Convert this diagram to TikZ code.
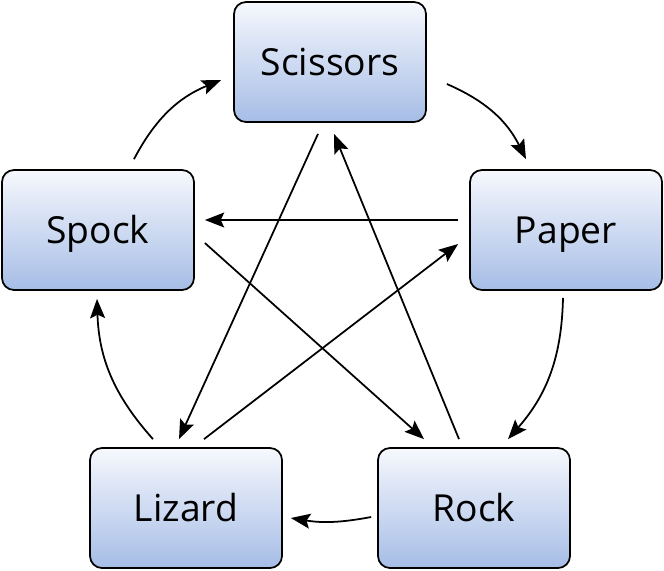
\documentclass[tikz,border=0pt]{standalone}
\usepackage{fontspec}
\setmainfont{Open Sans}
\usetikzlibrary{arrows.meta,positioning}
\definecolor{boxtop}{HTML}{F6F8FD}
\definecolor{boxbot}{HTML}{A6BDE6}
\begin{document}
\begin{tikzpicture}[line width=1pt, main/.style = {draw, rounded corners=0.24cm, top color=boxtop, bottom color=boxbot, minimum width=3.84cm, minimum height=2.4cm, inner sep=0pt, text height=15.2pt, text depth=0pt, font=\fontsize{21.2}{25}\selectfont},
        arr/.style={-{Stealth[length=11pt,width=8.5pt,inset=2pt]}}]
        \useasboundingbox (0,0) rectangle (13.28,-11.4);
        \node[main] (sc) at (6.6,-1.24) {Scissors};
        \node[main] (sp) at (1.96,-4.6) {Spock};
        \node[main] (pa) at (11.32,-4.6) {Paper};
        \node[main] (li) at (3.72,-10.16) {Lizard};
        \node[main] (ro) at (9.48,-10.16) {Rock};
        \draw[arr] ([xshift=0.72cm,yshift=0.2cm]sp.north) to[bend left=20] ([xshift=-0.24cm,yshift=-0.36cm]sc.west);
        \draw[arr] ([xshift=0.4cm,yshift=-0.44cm]sc.east) to[bend left=20] ([xshift=-0.8cm,yshift=0.2cm]pa.north);
        \draw[arr] ([xshift=-0.06cm,yshift=-0.14cm]pa.south) to[bend left=20] ([xshift=0.68cm,yshift=0.16cm]ro.north);
        \draw[arr] ([xshift=-0.12cm,yshift=-0.18cm]ro.west) to[bend left=10] ([xshift=0.16cm,yshift=-0.2cm]li.east);
        \draw[arr] ([xshift=-0.66cm,yshift=0.16cm]li.north) to[bend left=20] ([xshift=-0.02cm,yshift=-0.16cm]sp.south);
        \draw[arr] ([xshift=-0.22cm,yshift=0.2cm]pa.west) -- ([xshift=0.2cm,yshift=0.2cm]sp.east);
        \draw[arr] ([xshift=0.2cm,yshift=-0.26cm]sp.east) -- ([xshift=-1.0cm,yshift=0.16cm]ro.north);
        \draw[arr] ([xshift=0.36cm,yshift=0.16cm]li.north) -- ([xshift=-0.22cm,yshift=-0.28cm]pa.west);
        \draw[arr] ([xshift=-0.24cm,yshift=-0.22cm]sc.south) -- ([xshift=-0.14cm,yshift=0.16cm]li.north);
        \draw[arr] ([xshift=-0.3cm,yshift=0.16cm]ro.north) -- ([xshift=0.08cm,yshift=-0.22cm]sc.south);
    \end{tikzpicture}
\end{document}
